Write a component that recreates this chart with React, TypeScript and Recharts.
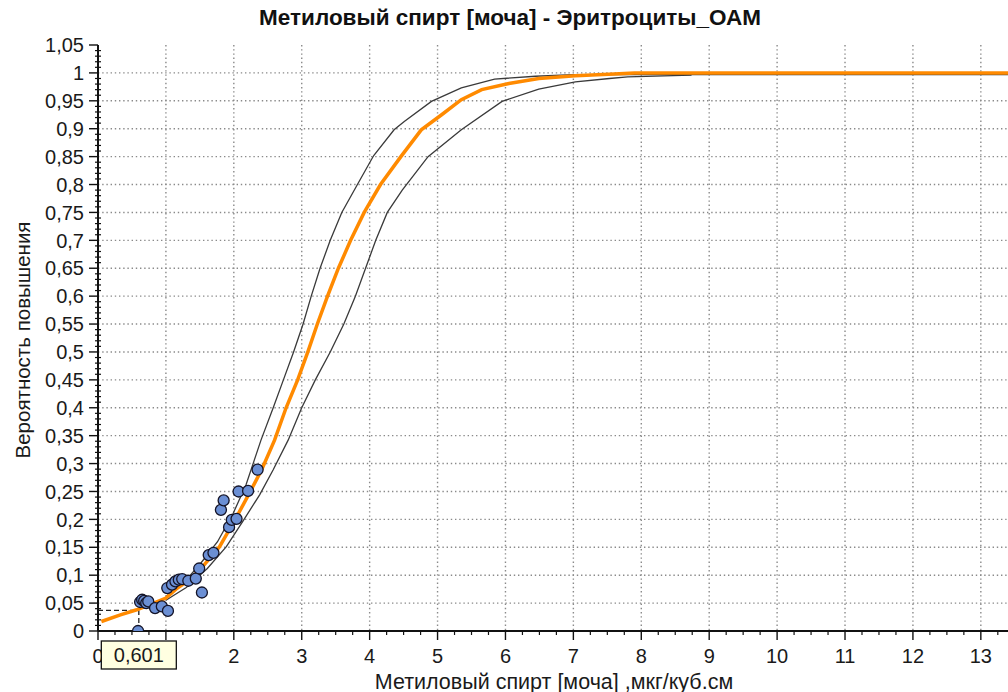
import React from 'react';
import {
  ComposedChart,
  Line,
  Scatter,
  XAxis,
  YAxis,
  CartesianGrid,
  ReferenceLine,
} from 'recharts';

// Fitted probability curve (methanol in urine vs. probability of elevated RBC)
const fitX = [0.05, 0.33, 0.57, 0.82, 1.0, 1.17, 1.37, 1.56, 1.79, 2.03, 2.23, 2.41, 2.6, 2.77, 2.94, 3.09, 3.23, 3.38, 3.54, 3.72, 3.92, 4.16, 4.46, 4.76, 5.06, 5.35, 5.65, 6.05, 6.49, 7.03, 7.6, 7.9, 13.4];
const fitP = [0.017, 0.029, 0.038, 0.05, 0.059, 0.077, 0.094, 0.118, 0.151, 0.202, 0.247, 0.289, 0.342, 0.4, 0.45, 0.5, 0.55, 0.6, 0.65, 0.7, 0.75, 0.8, 0.85, 0.898, 0.925, 0.952, 0.97, 0.981, 0.99, 0.995, 0.998, 1.0, 1.0];

// Upper confidence band
const upperX = [1.0, 1.25, 1.51, 1.76, 1.98, 2.18, 2.4, 2.58, 2.73, 2.88, 3.02, 3.14, 3.27, 3.42, 3.59, 3.82, 4.06, 4.36, 4.51, 4.91, 5.35, 5.84, 6.44, 7.0, 7.9, 13.4];
const upperP = [0.062, 0.085, 0.121, 0.16, 0.208, 0.262, 0.342, 0.4, 0.45, 0.5, 0.55, 0.6, 0.65, 0.7, 0.75, 0.8, 0.852, 0.898, 0.913, 0.949, 0.973, 0.989, 0.994, 0.997, 0.997, 0.997];

// Lower confidence band
const lowerX = [1.0, 1.3, 1.61, 1.89, 2.13, 2.38, 2.58, 2.8, 3.0, 3.2, 3.42, 3.62, 3.79, 3.94, 4.09, 4.26, 4.48, 4.86, 5.35, 5.95, 6.49, 7.03, 7.53, 7.8, 8.74];
const lowerP = [0.055, 0.078, 0.112, 0.151, 0.196, 0.244, 0.289, 0.342, 0.4, 0.45, 0.5, 0.55, 0.6, 0.65, 0.7, 0.75, 0.79, 0.85, 0.898, 0.949, 0.971, 0.984, 0.99, 0.993, 0.996];

// Observed points
const obsX = [0.59, 0.62, 0.65, 0.68, 0.71, 0.74, 0.84, 0.94, 1.03, 1.02, 1.09, 1.14, 1.19, 1.24, 1.33, 1.44, 1.53, 1.49, 1.63, 1.7, 1.81, 1.85, 1.93, 1.97, 2.04, 2.07, 2.21, 2.35];
const obsP = [0.0, 0.052, 0.056, 0.054, 0.05, 0.053, 0.041, 0.044, 0.036, 0.077, 0.083, 0.089, 0.092, 0.093, 0.09, 0.094, 0.069, 0.112, 0.136, 0.14, 0.217, 0.234, 0.186, 0.199, 0.201, 0.25, 0.251, 0.289];

// Cursor readout
const cursorX = 0.601;
const cursorP = 0.037;

const yMajorTicks = [0, 0.05, 0.1, 0.15, 0.2, 0.25, 0.3, 0.35, 0.4, 0.45, 0.5, 0.55, 0.6, 0.65, 0.7, 0.75, 0.8, 0.85, 0.9, 0.95, 1, 1.05];
const xMajorTicks = [0, 1, 2, 3, 4, 5, 6, 7, 8, 9, 10, 11, 12, 13];

const title = 'Метиловый спирт [моча] - Эритроциты_ОАМ';
const xTitle = 'Метиловый спирт [моча] ,мкг/куб.см';
const yTitle = 'Вероятность повышения';

const pairs = (xs: number[], ys: number[]) => xs.map((x, i) => ({ x, y: ys[i] }));
const fitData = pairs(fitX, fitP);
const upperData = pairs(upperX, upperP);
const lowerData = pairs(lowerX, lowerP);
const obsData = pairs(obsX, obsP);

// minor ticks: every 0.01 on Y, every 0.25 on X; the cursor readout goes last so it sits on top
const yAllTicks = Array.from({ length: 106 }, (_, i) => i / 100);
const xAllTicks = [...Array.from({ length: 54 }, (_, i) => i / 4), cursorX];

const FONT = '"Liberation Sans", Arial, sans-serif';
const TICK_FS = 20;
const Y_TICK = 9;
const Y_MARGIN = 5;
const X_TICK = 9;
const X_MARGIN = 9;

const isMajor = (v: number, step: number) => Math.abs(v / step - Math.round(v / step)) < 1e-6;
const fmt = (v: number) => String(v).replace('.', ',');

const YTick = (props: any) => {
  const { x, y, payload } = props;
  const axisX = x + Y_TICK + Y_MARGIN;
  const v = payload.value as number;
  if (!isMajor(v, 0.05)) {
    return <line x1={axisX - 3} x2={axisX + 3} y1={y} y2={y} stroke="#111" strokeWidth={1.2} />;
  }
  return (
    <g>
      <line x1={axisX - Y_TICK} x2={axisX} y1={y} y2={y} stroke="#111" strokeWidth={1.4} />
      <text x={x} y={y} dy="0.36em" textAnchor="end" fontFamily={FONT} fontSize={TICK_FS} fill="#1a1a1a">
        {fmt(v)}
      </text>
    </g>
  );
};

const XTick = (props: any) => {
  const { x, y, payload } = props;
  const axisY = y - X_TICK - X_MARGIN;
  const v = payload.value as number;
  if (v === cursorX) {
    // readout box for the cursor position
    return (
      <g>
        <rect x={x - 37.5} y={axisY + 10} width={75} height={28} fill="#ffffe1" stroke="#111" strokeWidth={1.3} />
        <text x={x} y={axisY + 24} dy="0.36em" textAnchor="middle" fontFamily={FONT} fontSize={TICK_FS} fill="#1a1a1a">
          {fmt(v)}
        </text>
      </g>
    );
  }
  if (!isMajor(v, 1)) {
    return <line x1={x} x2={x} y1={axisY} y2={axisY + 4} stroke="#111" strokeWidth={1.2} />;
  }
  return (
    <g>
      <line x1={x} x2={x} y1={axisY} y2={axisY + X_TICK} stroke="#111" strokeWidth={1.4} />
      <text x={x} y={y} dy="0.71em" textAnchor="middle" fontFamily={FONT} fontSize={TICK_FS} fill="#1a1a1a">
        {fmt(v)}
      </text>
    </g>
  );
};

const Dot = (props: any) => {
  const { cx, cy } = props;
  return <circle cx={cx} cy={cy} r={5.5} fill="#6b8fd4" stroke="#141428" strokeWidth={1.3} />;
};

export default function App() {
  return (
    <div style={{ position: 'absolute', left: 0, top: 0, width: 1008, height: 692, background: '#fff' }}>
      <ComposedChart width={1008} height={692} margin={{ top: 45, right: 0, bottom: 0, left: 0 }}>
        <CartesianGrid
          stroke="#8a8a8a"
          strokeWidth={1.4}
          strokeDasharray="1.4 2.8"
          horizontalValues={yMajorTicks.slice(1, -1)}
          verticalValues={xMajorTicks.slice(1)}
        />
        <XAxis
          type="number"
          dataKey="x"
          domain={[0, 13.4]}
          ticks={xAllTicks}
          interval={0}
          allowDataOverflow
          height={61}
          tickSize={X_TICK}
          tickMargin={X_MARGIN}
          tickLine={false}
          tick={<XTick />}
          axisLine={{ stroke: '#111', strokeWidth: 2 }}
        />
        <YAxis
          type="number"
          dataKey="y"
          domain={[0, 1.05]}
          ticks={yAllTicks}
          interval={0}
          allowDataOverflow
          width={98}
          tickSize={Y_TICK}
          tickMargin={Y_MARGIN}
          tickLine={false}
          tick={<YTick />}
          axisLine={{ stroke: '#111', strokeWidth: 2 }}
        />
        <ReferenceLine
          segment={[{ x: 0, y: cursorP }, { x: cursorX, y: cursorP }]}
          stroke="#222"
          strokeWidth={1.3}
          strokeDasharray="5 3"
        />
        <ReferenceLine
          segment={[{ x: cursorX, y: 0 }, { x: cursorX, y: cursorP }]}
          stroke="#222"
          strokeWidth={1.3}
          strokeDasharray="5 3"
        />
        <Line data={upperData} dataKey="y" type="linear" stroke="#3a3a3a" strokeWidth={1.3} dot={false} isAnimationActive={false} />
        <Line data={lowerData} dataKey="y" type="linear" stroke="#3a3a3a" strokeWidth={1.3} dot={false} isAnimationActive={false} />
        <Scatter data={obsData} dataKey="y" shape={<Dot />} isAnimationActive={false} />
        <Line data={fitData} dataKey="y" type="linear" stroke="#ff8a00" strokeWidth={3.5} dot={false} isAnimationActive={false} />
      </ComposedChart>
      <div
        style={{
          position: 'absolute',
          left: 510,
          top: 7,
          transform: 'translateX(-50%)',
          whiteSpace: 'nowrap',
          fontFamily: FONT,
          fontWeight: 'bold',
          fontSize: 22.5,
          lineHeight: '22px',
          color: '#111',
        }}
      >
        {title}
      </div>
      <div
        style={{
          position: 'absolute',
          left: 554,
          top: 671,
          transform: 'translateX(-50%)',
          whiteSpace: 'nowrap',
          fontFamily: FONT,
          fontSize: 21.5,
          lineHeight: '22px',
          color: '#1a1a1a',
        }}
      >
        {xTitle}
      </div>
      <div
        style={{
          position: 'absolute',
          left: 23,
          top: 340,
          transform: 'translate(-50%, -50%) rotate(-90deg)',
          whiteSpace: 'nowrap',
          fontFamily: FONT,
          fontSize: 20.5,
          lineHeight: '22px',
          color: '#1a1a1a',
        }}
      >
        {yTitle}
      </div>
    </div>
  );
}
